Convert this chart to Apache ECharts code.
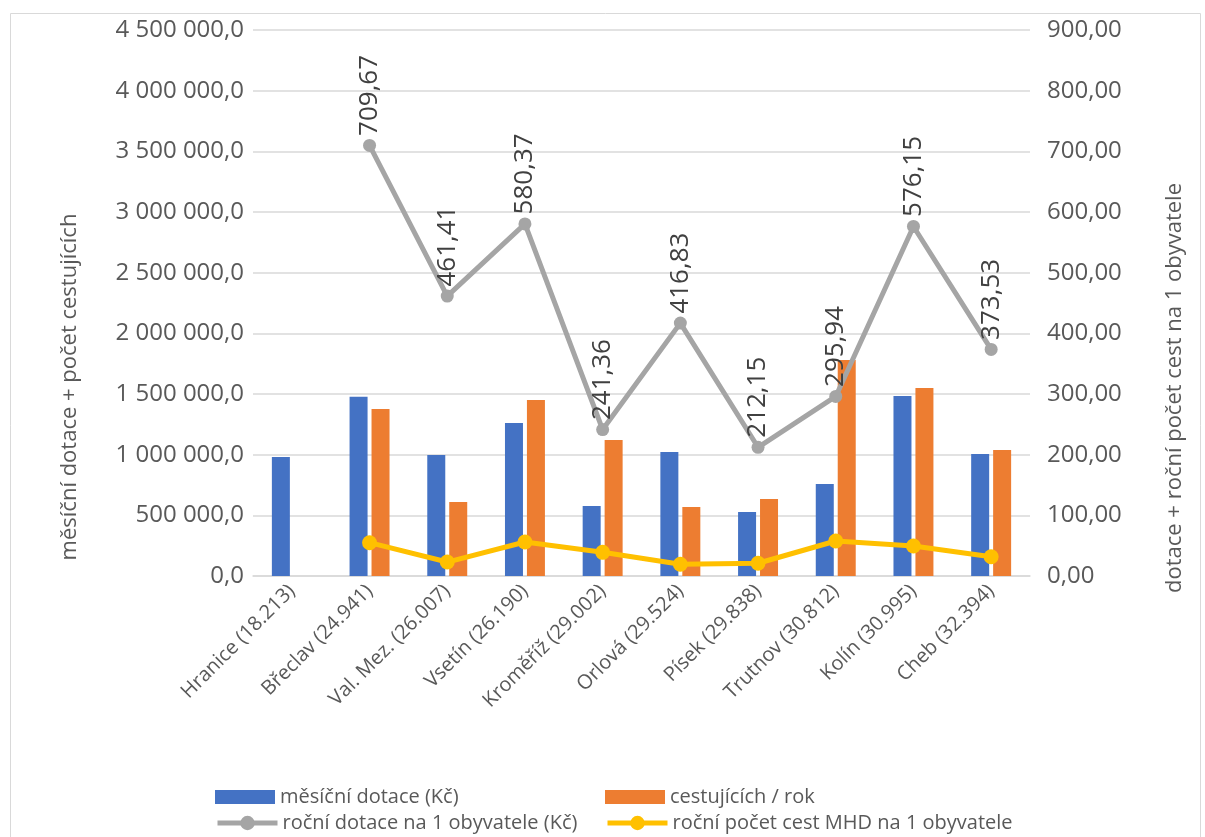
<!DOCTYPE html>
<html>
<head>
<meta charset="utf-8">
<script src="https://cdn.jsdelivr.net/npm/echarts@6/dist/echarts.min.js"></script>
<style>
  html, body { margin: 0; padding: 0; background: #fff; }
  #chart { width: 1205px; height: 837px; }
</style>
</head>
<body>
<div id="chart"></div>
<script>
// Cities (population in brackets)
const categories = [
  'Hranice (18.213)', 'Břeclav (24.941)', 'Val. Mez. (26.007)', 'Vsetín (26.190)',
  'Kroměříž (29.002)', 'Orlová (29.524)', 'Písek (29.838)', 'Trutnov (30.812)',
  'Kolín (30.995)', 'Cheb (32.394)'
];
// Monthly subsidy (CZK)
const mesicniDotace = [980000, 1478000, 997000, 1261000, 577000, 1022000, 527000, 758000, 1484000, 1005000];
// Passengers per year
const cestujicich = [null, 1376000, 610000, 1450000, 1121000, 569000, 635000, 1780000, 1549000, 1038000];
// Annual subsidy per inhabitant (CZK)
const rocniDotace = [null, 709.67, 461.41, 580.37, 241.36, 416.83, 212.15, 295.94, 576.15, 373.53];
// Annual public transport trips per inhabitant
const rocniPocetCest = [null, 54.9, 23.0, 56.0, 39.0, 19.3, 21.0, 57.7, 49.5, 31.8];

const leftTicks = { min: 0, max: 4500000, interval: 500000 };
const rightTicks = { min: 0, max: 900, interval: 100 };

const leftAxisName = 'měsíční dotace + počet cestujících';
const rightAxisName = 'dotace + roční počet cest na 1 obyvatele';

const FONT = 'Open Sans';
const GREY_TEXT = '#595959';
const GRID_LINE = '#d9d9d9';

function fmtLeft(v) {
  const s = Math.round(v).toString().replace(/\B(?=(\d{3})+(?!\d))/g, ' ');
  return s + ',0';
}
function fmtRight(v) {
  return v.toFixed(2).replace('.', ',');
}

const chart = echarts.init(document.getElementById('chart'), null, { renderer: 'canvas' });

const names = ['měsíční dotace (Kč)', 'cestujících / rok', 'roční dotace na 1 obyvatele (Kč)', 'roční počet cest MHD na 1 obyvatele'];

function legendAt(name, left, top, isBar) {
  const l = {
    data: [name], left: left, top: top,
    itemWidth: 60, itemHeight: isBar ? 14 : 18, itemGap: 0,
    textStyle: { fontFamily: FONT, fontSize: 20, color: GREY_TEXT },
    selectedMode: false
  };
  if (isBar) l.icon = 'rect';
  else l.lineStyle = { width: 5 };
  return l;
}

chart.setOption({
  animation: false,
  textStyle: { fontFamily: FONT },
  graphic: [{
    type: 'rect', shape: { x: 10.5, y: 13.5, width: 1190, height: 840 },
    style: { fill: 'none', stroke: '#d9d9d9', lineWidth: 1 }, silent: true, z: -1
  }, {
    type: 'text', x: 70, y: 387, rotation: Math.PI / 2,
    style: { text: leftAxisName, fontFamily: FONT, fontSize: 22, fill: GREY_TEXT, align: 'center', verticalAlign: 'middle' },
    silent: true
  }, {
    type: 'text', x: 1175, y: 388, rotation: Math.PI / 2,
    style: { text: rightAxisName, fontFamily: FONT, fontSize: 22, fill: GREY_TEXT, align: 'center', verticalAlign: 'middle' },
    silent: true
  }],
  grid: { left: 253, right: 175, top: 30, bottom: 261, containLabel: false },
  legend: [
    legendAt(names[0], 210, 782, true),
    legendAt(names[1], 600, 782, true),
    legendAt(names[2], 210, 808, false),
    legendAt(names[3], 600, 808, false)
  ],
  xAxis: {
    type: 'category', data: categories,
    axisLine: { lineStyle: { color: GRID_LINE, width: 1.5 } },
    axisTick: { show: false },
    axisLabel: { rotate: 45, fontSize: 20, color: GREY_TEXT, interval: 0, margin: 12, fontFamily: FONT }
  },
  yAxis: [{
    type: 'value', min: leftTicks.min, max: leftTicks.max, interval: leftTicks.interval,
    axisLine: { show: false }, axisTick: { show: false },
    axisLabel: { formatter: fmtLeft, fontSize: 24, color: GREY_TEXT, margin: 9, fontFamily: FONT },
    splitLine: { lineStyle: { color: GRID_LINE, width: 1.5 } }
  }, {
    type: 'value', min: rightTicks.min, max: rightTicks.max, interval: rightTicks.interval,
    axisLine: { show: false }, axisTick: { show: false },
    axisLabel: { formatter: fmtRight, fontSize: 24, color: GREY_TEXT, margin: 17, fontFamily: FONT },
    splitLine: { show: false }
  }],
  series: [{
    name: names[0], type: 'bar', data: mesicniDotace, yAxisIndex: 0,
    barWidth: 18, barGap: '22%',
    itemStyle: { color: '#4472c4' }
  }, {
    name: names[1], type: 'bar', data: cestujicich, yAxisIndex: 0,
    barWidth: 18, barGap: '22%',
    itemStyle: { color: '#ed7d31' }
  }, {
    name: names[2], type: 'line', data: rocniDotace, yAxisIndex: 1,
    symbol: 'circle', symbolSize: 13,
    lineStyle: { color: '#a5a5a5', width: 5 },
    itemStyle: { color: '#a5a5a5' },
    label: {
      show: true, position: 'top', rotate: 90, distance: 3,
      align: 'left', verticalAlign: 'middle',
      formatter: p => fmtRight(p.value),
      fontSize: 26, color: '#404040', fontFamily: FONT
    },
    z: 3
  }, {
    name: names[3], type: 'line', data: rocniPocetCest, yAxisIndex: 1,
    symbol: 'circle', symbolSize: 15,
    lineStyle: { color: '#ffc000', width: 5 },
    itemStyle: { color: '#ffc000' },
    z: 4
  }]
});
</script>
</body>
</html>
